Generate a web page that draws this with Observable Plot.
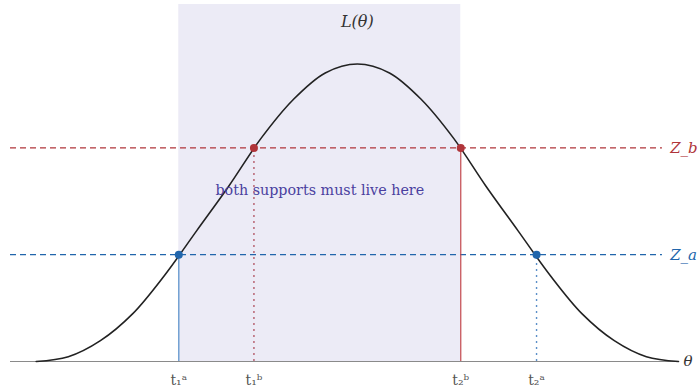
<!DOCTYPE html>
<html>
<head>
<meta charset="utf-8">
<script src="https://cdn.jsdelivr.net/npm/d3@7"></script>
<script src="https://cdn.jsdelivr.net/npm/@observablehq/plot@0.6"></script>
<style>
  body { margin: 0; background: #fff; }
</style>
</head>
<body>
<div id="chart"></div>
<script>
// Likelihood curve L(θ), sampled along θ
const theta = [-2.5, -2.25, -2, -1.75, -1.5, -1.25, -1, -0.75, -0.5, -0.25, 0,
               0.25, 0.5, 0.75, 1, 1.25, 1.5, 1.75, 2, 2.25, 2.5];
const likelihood = [0, 0.016, 0.07, 0.16, 0.29, 0.44, 0.59, 0.75, 0.88, 0.97, 1.00,
                    0.97, 0.88, 0.75, 0.59, 0.44, 0.29, 0.16, 0.07, 0.016, 0];

// Threshold levels
const thresholdNames = ["Z_a", "Z_b"];
const thresholdLevels = [0.359, 0.718];

// Where the curve crosses each threshold
const crossingLabels = ["t₁ᵃ", "t₁ᵇ", "t₂ᵇ", "t₂ᵃ"];
const crossingTheta = [-1.39, -0.805, 0.805, 1.395];
const crossingThreshold = ["Z_a", "Z_b", "Z_b", "Z_a"];

const bandText = "both supports must live here";
const curveTitle = "L(θ)";
const axisTitle = "θ";

const curve = theta.map((t, i) => ({theta: t, L: likelihood[i]}));
const levelOf = Object.fromEntries(thresholdNames.map((n, i) => [n, thresholdLevels[i]]));
const crossings = crossingLabels.map((label, i) => ({
  label, theta: crossingTheta[i], level: crossingThreshold[i], L: levelOf[crossingThreshold[i]]
}));
const thresholds = thresholdNames.map((name, i) => ({name, L: thresholdLevels[i]}));
const band = [{x1: crossingTheta[0], x2: crossingTheta[2]}];

const RED = "#b0353a";
const BLUE = "#2166ac";
const serif = "DejaVu Serif";

const chart = Plot.plot({
  width: 699,
  height: 392,
  marginLeft: 10,
  marginRight: 21,
  marginTop: 4,
  marginBottom: 31,
  x: {domain: [-2.7, 2.5], axis: null},
  y: {domain: [0, 1.2], axis: null},
  color: {domain: thresholdNames, range: [BLUE, RED]},
  style: {fontFamily: serif, background: "#fff", overflow: "visible"},
  marks: [
    Plot.rect(band, {x1: "x1", x2: "x2", y1: 0, y2: 1.2, fill: "#ecebf6"}),
    Plot.ruleY([0], {stroke: "#8a8a8a", strokeWidth: 1.2}),
    // dashed threshold lines
    Plot.ruleY(thresholds, {y: "L", x1: -2.7, x2: 2.375, stroke: "name", strokeWidth: 1.3, strokeDasharray: "6,4"}),
    Plot.text(thresholds, {y: "L", x: 2.435, text: "name", fill: "name", textAnchor: "start",
      fontStyle: "italic", fontSize: 15}),
    // verticals down to the axis: outer support solid, inner dotted
    Plot.ruleX(crossings.filter(d => d.label === "t₁ᵃ"), {x: "theta", y1: 0, y2: "L", stroke: "#6a9bd0", strokeWidth: 1.4}),
    Plot.ruleX(crossings.filter(d => d.label === "t₂ᵇ"), {x: "theta", y1: 0, y2: "L", stroke: "#c2474c", strokeWidth: 1.2}),
    Plot.ruleX(crossings.filter(d => d.label === "t₁ᵇ"), {x: "theta", y1: 0, y2: "L", stroke: "#b45a6a", strokeWidth: 1.4, strokeDasharray: "2,4"}),
    Plot.ruleX(crossings.filter(d => d.label === "t₂ᵃ"), {x: "theta", y1: 0, y2: "L", stroke: "#5b8fc8", strokeWidth: 1.4, strokeDasharray: "2,4"}),
    // likelihood curve
    Plot.line(curve, {x: "theta", y: "L", curve: "catmull-rom", stroke: "#222", strokeWidth: 1.6}),
    Plot.dot(crossings, {x: "theta", y: "L", r: 4, fill: "level", stroke: "none"}),
    // labels
    Plot.text(band, {x: d => (d.x1 + d.x2) / 2, y: 0.575, text: () => bandText, fill: "#4a3f9f", fontSize: 14.3}),
    Plot.text([curveTitle], {x: 0, y: 1.14, text: d => d, fill: "#333", fontStyle: "italic", fontSize: 16}),
    Plot.text([axisTitle], {x: 2.5, y: 0, dx: 5, text: d => d, textAnchor: "start", fill: "#333", fontStyle: "italic", fontSize: 15}),
    Plot.text(crossings, {x: "theta", y: 0, dy: 19, text: "label", fill: "#555", fontSize: 14})
  ]
});

document.getElementById("chart").appendChild(chart);
</script>
</body>
</html>
